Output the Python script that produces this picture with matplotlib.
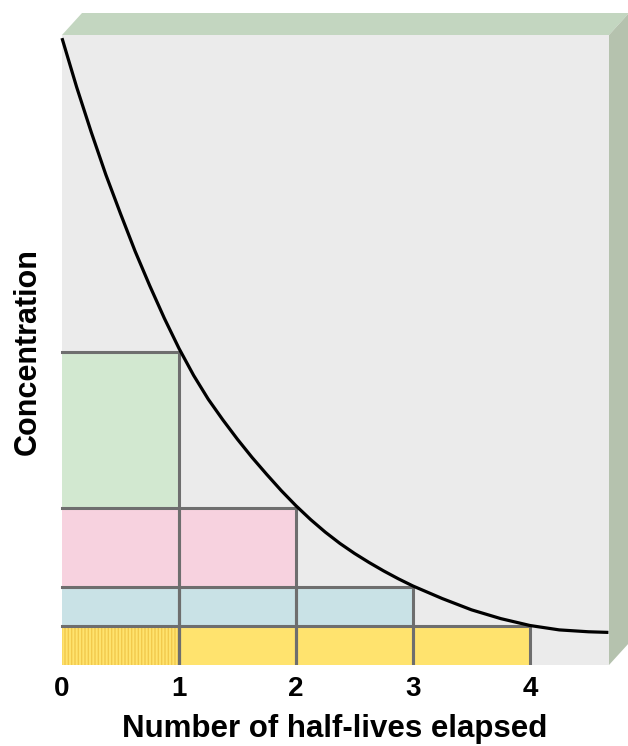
import numpy as np
import matplotlib
matplotlib.use("Agg")
import matplotlib.pyplot as plt
from matplotlib.patches import Polygon

plt.rcParams['font.family'] = ['Liberation Sans', 'DejaVu Sans']

# curve (concentration, start = 100)
half_lives = [0, 0.125, 0.25, 0.375, 0.5, 0.625, 0.75, 0.875, 1.0, 1.125, 1.25, 1.375,
              1.5, 1.625, 1.75, 1.875, 2.0, 2.125, 2.25, 2.375, 2.5, 2.625, 2.75, 2.875,
              3.0, 3.25, 3.5, 3.75, 4.0, 4.25, 4.5, 4.67]
concentration = [100, 92.2, 85.0, 78.2, 72.0, 66.0, 60.5, 55.3, 50.5, 46.2, 42.4, 39.1,
                 36.0, 33.1, 30.4, 27.8, 25.4, 23.2, 21.2, 19.4, 17.8, 16.35, 15.0, 13.75,
                 12.6, 10.6, 8.8, 7.4, 6.3, 5.6, 5.3, 5.2]

# stacked halves: (lower, upper, number of columns, colour)
levels_low = [0, 6.25, 12.5, 25]
levels_high = [6.25, 12.5, 25, 50]
n_cols = [4, 3, 2, 1]
level_colors = ['#ffe36e', '#c9e2e6', '#f7d2df', '#d2e8d0']

tick_vals = [0, 1, 2, 3, 4]
x_label = 'Number of half-lives elapsed'
y_label = 'Concentration'

W, H = 628, 746
fig = plt.figure(figsize=(W / 100, H / 100), dpi=100)

# background layer in pixel coordinates for the 3D box faces
bg = fig.add_axes([0, 0, 1, 1], zorder=0)
bg.set_xlim(0, W)
bg.set_ylim(H, 0)
bg.axis('off')
left, right, top, bottom = 62, 609, 35, 665
dx, dy = 20, 22
bg.add_patch(Polygon([(left, top), (left + dx, top - dy), (right + dx, top - dy), (right, top)],
                     closed=True, facecolor='#c3d6c0', edgecolor='none'))
bg.add_patch(Polygon([(right, top), (right + dx, top - dy), (right + dx, bottom - dy), (right, bottom)],
                     closed=True, facecolor='#b5c2ae', edgecolor='none'))

# front face
ax = fig.add_axes([left / W, 1 - bottom / H, (right - left) / W, (bottom - top) / H], zorder=1)
ax.set_facecolor('#ebebeb')
ax.set_xlim(0, (right - left) / 117)
ax.set_ylim(0, 100.5)

grid_col = '#6e6e6e'
for low, high, nc, col in zip(levels_low, levels_high, n_cols, level_colors):
    xs = np.arange(nc)
    ax.bar(xs, [high - low] * nc, width=1, bottom=low, align='edge',
           color=col, linewidth=0, zorder=2)
for low, high, nc in zip(levels_low, levels_high, n_cols):
    ax.plot([0, nc], [high, high], color=grid_col, linewidth=2.2,
            solid_capstyle='projecting', zorder=2.6, clip_on=False)
    ax.vlines(np.arange(1, nc + 1), 0, high, color=grid_col, linewidth=2.2, zorder=2.6)

# vertical stripes in the first yellow cell
ax.bar([0], [levels_high[0]], width=1, bottom=0, align='edge', color='none',
       edgecolor='#f2c94c', hatch='|||||', linewidth=0, zorder=2.5)

ax.plot(half_lives, concentration, color='black', linewidth=2.3,
        solid_capstyle='butt', solid_joinstyle='round', zorder=3, clip_on=False)

for s in ax.spines.values():
    s.set_visible(False)
ax.set_yticks([])
ax.set_xticks(tick_vals)
ax.set_xticklabels([str(t) for t in tick_vals], fontsize=20, fontweight='bold')
ax.tick_params(axis='x', length=0, pad=8)

fig.text(335 / W, 1 - 729 / H, x_label, ha='center', va='center',
         fontsize=22.5, fontweight='bold')
fig.text(28 / W, 1 - 352 / H, y_label, ha='center', va='center', rotation=90,
         fontsize=22, fontweight='bold')

fig.savefig('out.png', dpi=100, facecolor='white')
